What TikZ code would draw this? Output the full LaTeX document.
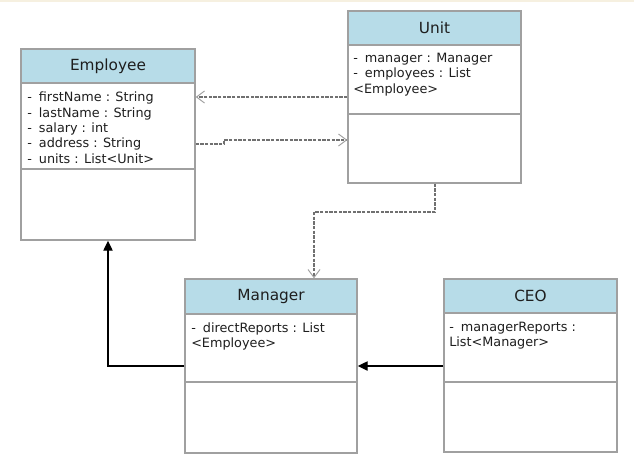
\documentclass[tikz,border=0pt]{standalone}
\usepackage{fontspec}
\setmainfont{DejaVu Sans}
\usetikzlibrary{fit,arrows.meta}
\definecolor{hdrblue}{HTML}{B7DCE8}
\definecolor{boxgray}{HTML}{A0A0A0}
\definecolor{dashgray}{HTML}{707070}
\definecolor{txt}{HTML}{1E1E1E}
\definecolor{topstrip}{HTML}{F6F0E0}
\newcommand\umldash{-\hspace{0.55em}}
\tikzset{
  hdr/.style={draw=boxgray, line width=1.1pt, fill=hdrblue, inner sep=0pt},
  ttl/.style={inner sep=0pt, text=txt, font=\fontsize{11.5}{13}\selectfont},
  cbody/.style={draw=boxgray, line width=1.1pt, fill=white, inner sep=0pt},
  attr/.style={anchor=north west, inner sep=0pt, align=left, text=txt, font=\fontsize{9.6}{11.5}\selectfont},
  dep/.style={draw=dashgray, line width=0.9pt, dash pattern=on 2.4pt off 1.1pt, -{Straight Barb[length=6pt,width=9pt,color=boxgray,line width=0.7pt]}},
  inh/.style={draw=black, line width=1pt, -{Triangle[length=7.5pt,width=7pt]}},
}
\begin{document}
\begin{tikzpicture}[x=0.75pt,y=-0.75pt]
\useasboundingbox (0,0) rectangle (634,465);
\fill[topstrip] (0,0) rectangle (634,1.8);
% Employee
\node[hdr, fit={(21,49) (195,83)}] (empH) {};
\node[ttl] (empL) at (empH.center) {Employee};
\node[cbody, fit={(21,83) (195,169)}] (empA) {};
\node[cbody, fit={(21,169) (195,240)}] (empM) {};
\node[attr] (empT) at (27,92) {\umldash firstName : String\\\umldash lastName : String\\\umldash salary : int\\\umldash address : String\\\umldash units : List<Unit>};
% Unit
\node[hdr, fit={(348,11) (521,45)}] (unitH) {};
\node[ttl] (unitL) at (unitH.center) {Unit};
\node[cbody, fit={(348,45) (521,114)}] (unitA) {};
\node[cbody, fit={(348,114) (521,183)}] (unitM) {};
\node[attr] (unitT) at (353,53) {\umldash manager : Manager\\\umldash employees : List\\<Employee>};
% Manager
\node[hdr, fit={(185,279) (357,314)}] (mgrH) {};
\node[ttl] (mgrL) at (mgrH.center) {Manager};
\node[cbody, fit={(185,314) (357,382)}] (mgrA) {};
\node[cbody, fit={(185,382) (357,453)}] (mgrM) {};
\node[attr] (mgrT) at (191,322) {\umldash directReports : List\\<Employee>};
% CEO
\node[hdr, fit={(444,279) (617,313)}] (ceoH) {};
\node[ttl] (ceoL) at (ceoH.center) {CEO};
\node[cbody, fit={(444,313) (617,382)}] (ceoA) {};
\node[cbody, fit={(444,382) (617,452)}] (ceoM) {};
\node[attr] (ceoT) at (449,322) {\umldash managerReports :\\List<Manager>};
% connectors
\draw[dep] (unitA.west |- 0,97) -- (empA.east |- 0,97);
\draw[dep] (empA.east |- 0,144) -- (224,144) -- (224,140) -- (unitM.west |- 0,140);
\draw[dep] (unitM.south -| 435,0) -- (435,212) -- (314,212) -- (mgrH.north -| 314,0);
\draw[inh] (mgrA.west |- 0,366) -- (108,366) -- (empM.south -| 108,0);
\draw[inh] (ceoA.west |- 0,366) -- (mgrA.east |- 0,366);
\end{tikzpicture}
\end{document}
